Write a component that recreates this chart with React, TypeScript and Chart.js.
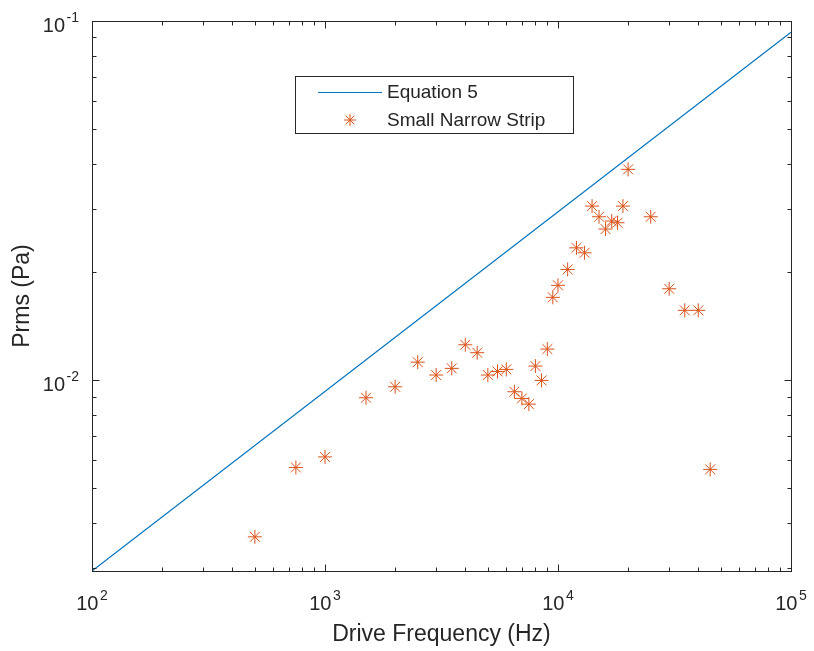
import { useEffect, useRef } from "react";
import { Chart, registerables } from "chart.js";

Chart.register(...registerables);

// ---- data ----
const eqFreq = [100, 100000];
const eqPrms = [0.00294, 0.093];

const stripFreq = [
  500, 750, 1000, 1500, 2000, 2500, 3000, 3500, 4000, 4500,
  5000, 5500, 6000, 6500, 7000, 7500, 8000, 8500, 9000, 9500,
  10000, 11000, 12000, 13000, 14000, 15000, 16000, 17000, 18000, 19000,
  20000, 25000, 30000, 35000, 40000, 45000,
];
const stripPrms = [
  0.00366, 0.00571, 0.00611, 0.00893, 0.00958, 0.01122, 0.01033, 0.01078, 0.01254, 0.01192,
  0.01033, 0.01057, 0.01071, 0.00928, 0.00889, 0.00857, 0.01094, 0.00998, 0.0122, 0.017,
  0.01836, 0.02033, 0.02335, 0.02262, 0.03052, 0.0285, 0.02634, 0.02773, 0.02743, 0.03052,
  0.03862, 0.0285, 0.01796, 0.01564, 0.01564, 0.00564,
];

const seriesLabels = ["Equation 5", "Small Narrow Strip"];

const xMajorTicks = [100, 1000, 10000, 100000];
const xMajorExp = ["2", "3", "4", "5"];
const xMinorTicks = [
  200, 300, 400, 500, 600, 700, 800, 900,
  2000, 3000, 4000, 5000, 6000, 7000, 8000, 9000,
  20000, 30000, 40000, 50000, 60000, 70000, 80000, 90000,
];
const yMajorTicks = [0.01, 0.1];
const yMajorExp = ["-2", "-1"];
const yMinorTicks = [
  0.003, 0.004, 0.005, 0.006, 0.007, 0.008, 0.009,
  0.02, 0.03, 0.04, 0.05, 0.06, 0.07, 0.08, 0.09,
];

const xTitle = "Drive Frequency (Hz)";
const yTitle = "Prms (Pa)";

const X_MIN = 100;
const X_MAX = 100000;
const Y_MIN = 0.00294;
const Y_MAX = 0.1;

// ---- style ----
const FONT = '"Liberation Sans", Arial, Helvetica, sans-serif';
const AXIS_COLOR = "#262626";
const LINE_COLOR = "#0072BD";
const MARK_COLOR = "#D95319";

function drawPow(
  ctx: CanvasRenderingContext2D,
  exp: string,
  x: number,
  baseline: number,
  align: "center" | "right"
) {
  ctx.font = `20px ${FONT}`;
  const wBase = ctx.measureText("10").width;
  ctx.font = `14px ${FONT}`;
  const wExp = ctx.measureText(exp).width;
  const gap = 1.5;
  const total = wBase + gap + wExp;
  const start = align === "center" ? x - total / 2 : x - total;
  ctx.textAlign = "left";
  ctx.textBaseline = "alphabetic";
  ctx.font = `20px ${FONT}`;
  ctx.fillText("10", start, baseline);
  ctx.font = `14px ${FONT}`;
  ctx.fillText(exp, start + wBase + gap, baseline - 10);
}

const matlabAxes = {
  id: "matlabAxes",
  afterDraw(chart: any) {
    const ctx: CanvasRenderingContext2D = chart.ctx;
    const { left, right, top, bottom } = chart.chartArea;
    const xs = chart.scales.x;
    const ys = chart.scales.y;
    ctx.save();
    ctx.strokeStyle = AXIS_COLOR;
    ctx.fillStyle = AXIS_COLOR;
    ctx.lineWidth = 1;

    // frame
    ctx.strokeRect(left + 0.5, top + 0.5, right - left, bottom - top);

    const major = 7;
    const minor = 4;
    ctx.beginPath();
    const xTick = (v: number, len: number) => {
      const p = Math.round(xs.getPixelForValue(v)) + 0.5;
      ctx.moveTo(p, bottom + 0.5);
      ctx.lineTo(p, bottom + 0.5 - len);
      ctx.moveTo(p, top + 0.5);
      ctx.lineTo(p, top + 0.5 + len);
    };
    const yTick = (v: number, len: number) => {
      const p = Math.round(ys.getPixelForValue(v)) + 0.5;
      ctx.moveTo(left + 0.5, p);
      ctx.lineTo(left + 0.5 + len, p);
      ctx.moveTo(right + 0.5, p);
      ctx.lineTo(right + 0.5 - len, p);
    };
    xMajorTicks.forEach((v) => xTick(v, major));
    xMinorTicks.forEach((v) => xTick(v, minor));
    yMajorTicks.forEach((v) => yTick(v, major));
    yMinorTicks.forEach((v) => yTick(v, minor));
    ctx.stroke();

    // tick labels
    xMajorTicks.forEach((v, i) => {
      const p = xs.getPixelForValue(v);
      drawPow(ctx, xMajorExp[i], p, bottom + 39, "center");
    });
    yMajorTicks.forEach((v, i) => {
      const p = ys.getPixelForValue(v);
      drawPow(ctx, yMajorExp[i], left - 13, p + 11, "right");
    });

    // axis titles
    ctx.font = `23px ${FONT}`;
    ctx.textAlign = "center";
    ctx.textBaseline = "alphabetic";
    ctx.fillText(xTitle, (left + right) / 2, bottom + 70);
    ctx.save();
    ctx.translate(29, (top + bottom) / 2);
    ctx.rotate(-Math.PI / 2);
    ctx.fillText(yTitle, 0, 0);
    ctx.restore();

    // legend
    const lx = left + 203;
    const ly = top + 55;
    const lw = 278;
    const lh = 57;
    ctx.fillStyle = "#ffffff";
    ctx.fillRect(lx, ly, lw, lh);
    ctx.strokeStyle = AXIS_COLOR;
    ctx.lineWidth = 1;
    ctx.strokeRect(lx + 0.5, ly + 0.5, lw, lh);

    const row1 = ly + 16;
    const row2 = ly + 44;
    ctx.strokeStyle = LINE_COLOR;
    ctx.lineWidth = 1.2;
    ctx.beginPath();
    ctx.moveTo(lx + 23, row1 + 0.5);
    ctx.lineTo(lx + 87, row1 + 0.5);
    ctx.stroke();

    ctx.strokeStyle = MARK_COLOR;
    ctx.lineWidth = 1;
    ctx.beginPath();
    const mx = lx + 55;
    const r = 6;
    const d = r * Math.SQRT1_2;
    ctx.moveTo(mx - r, row2);
    ctx.lineTo(mx + r, row2);
    ctx.moveTo(mx, row2 - r);
    ctx.lineTo(mx, row2 + r);
    ctx.moveTo(mx - d, row2 - d);
    ctx.lineTo(mx + d, row2 + d);
    ctx.moveTo(mx - d, row2 + d);
    ctx.lineTo(mx + d, row2 - d);
    ctx.stroke();

    ctx.fillStyle = AXIS_COLOR;
    ctx.font = `19px ${FONT}`;
    ctx.textAlign = "left";
    ctx.textBaseline = "middle";
    ctx.fillText(chart.data.datasets[0].label, lx + 92, row1 + 1);
    ctx.fillText(chart.data.datasets[1].label, lx + 92, row2 + 1);

    ctx.restore();
  },
};

export default function App() {
  const ref = useRef<HTMLCanvasElement | null>(null);

  useEffect(() => {
    if (!ref.current) return;
    const chart = new Chart(ref.current, {
      type: "scatter",
      data: {
        datasets: [
          {
            label: seriesLabels[0],
            data: eqFreq.map((f, i) => ({ x: f, y: eqPrms[i] })),
            showLine: true,
            borderColor: LINE_COLOR,
            backgroundColor: LINE_COLOR,
            borderWidth: 1.2,
            pointRadius: 0,
            order: 1,
          },
          {
            label: seriesLabels[1],
            data: stripFreq.map((f, i) => ({ x: f, y: stripPrms[i] })),
            showLine: false,
            pointStyle: "star",
            pointRadius: 7,
            pointBorderWidth: 1,
            borderColor: MARK_COLOR,
            backgroundColor: MARK_COLOR,
            order: 0,
          },
        ],
      },
      options: {
        responsive: false,
        animation: false,
        events: [],
        layout: { padding: { left: 0, top: 21, right: 23, bottom: 0 } },
        plugins: {
          legend: { display: false },
          tooltip: { enabled: false },
          title: { display: false },
        },
        scales: {
          x: {
            type: "logarithmic",
            position: "bottom",
            min: X_MIN,
            max: X_MAX,
            grid: { display: false },
            border: { display: false },
            ticks: { display: false },
            afterFit: (s: any) => {
              s.height = 80;
            },
          },
          y: {
            type: "logarithmic",
            position: "left",
            min: Y_MIN,
            max: Y_MAX,
            grid: { display: false },
            border: { display: false },
            ticks: { display: false },
            afterFit: (s: any) => {
              s.width = 92;
            },
          },
        },
      },
      plugins: [matlabAxes],
    });
    return () => chart.destroy();
  }, []);

  return (
    <div style={{ position: "fixed", left: 0, top: 0, width: 814, height: 651, background: "#fff" }}>
      <canvas ref={ref} width={814} height={651} />
    </div>
  );
}
